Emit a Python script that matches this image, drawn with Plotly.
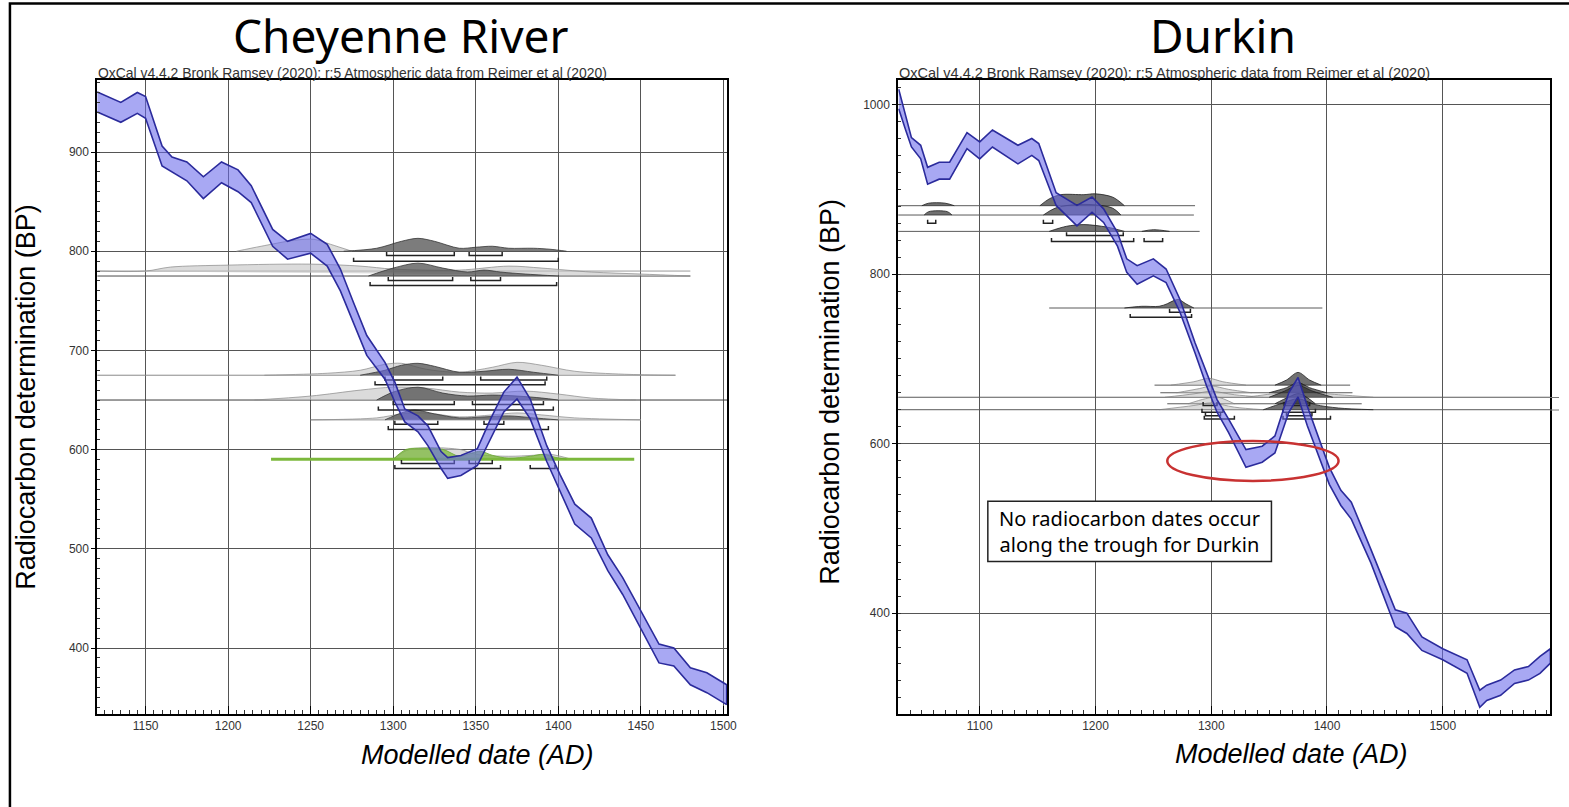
import plotly.graph_objects as go

W, H = 1569, 807

# ---------------- DATA ----------------
# Cheyenne River: calibration curve band (upper / lower, BP)
cr_year  = [1120, 1128, 1135, 1145, 1150, 1160, 1166, 1175, 1185, 1196, 1206, 1214, 1227, 1236, 1250,
            1260, 1268, 1276, 1284, 1295, 1301, 1307, 1315, 1321, 1329, 1333, 1341, 1351, 1359, 1367,
            1375, 1383, 1393, 1401, 1410, 1420, 1430, 1439, 1450, 1461, 1470, 1480, 1490, 1502]
cr_upper = [961, 955, 950, 960, 956, 906, 895, 890, 875, 890, 882, 866, 822, 810, 818,
            807, 782, 748, 715, 688, 668, 641, 634, 624, 598, 592, 594, 601, 631, 658,
            673, 651, 604, 575, 545, 531, 494, 471, 437, 404, 400, 380, 375, 363]
cr_lower = [941, 935, 930, 939, 934, 886, 880, 871, 853, 869, 860, 849, 805, 792, 798,
            785, 760, 728, 695, 671, 648, 628, 618, 604, 581, 571, 574, 584, 611, 638,
            651, 631, 588, 558, 525, 511, 478, 454, 420, 385, 382, 363, 355, 343]

# Durkin: calibration curve band
dk_year  = [1030, 1036, 1041, 1049, 1055, 1065, 1074, 1089, 1100, 1111, 1133, 1145, 1151, 1166, 1184,
            1197, 1207, 1219, 1227, 1236, 1250, 1261, 1273, 1286, 1296, 1305, 1315, 1330, 1344, 1355,
            1367, 1375, 1383, 1392, 1402, 1412, 1421, 1438, 1459, 1469, 1482, 1500, 1521, 1532, 1538,
            1550, 1562, 1574, 1584, 1593]
dk_upper = [1018, 985, 961, 952, 926, 932, 932, 967, 956, 970, 952, 960, 954, 896, 881,
            891, 877, 849, 818, 810, 818, 806, 770, 719, 684, 652, 629, 593, 597, 609,
            660, 678, 644, 609, 572, 545, 531, 475, 404, 400, 372, 358, 345, 309, 315,
            321, 333, 337, 349, 358]
dk_lower = [995, 970, 950, 936, 906, 912, 912, 948, 936, 950, 930, 940, 934, 881, 857,
            873, 861, 833, 802, 788, 798, 790, 755, 707, 668, 637, 613, 572, 578, 589,
            637, 655, 621, 589, 552, 527, 511, 459, 384, 376, 356, 345, 329, 289, 297,
            303, 317, 321, 329, 341]

# Cheyenne River distributions: (baseline BP, years, heights)
cr_prior = [
    (800, [1205, 1220, 1240, 1252, 1262, 1275], [0, 5, 11, 12, 7, 0]),
    (775, [1120, 1150, 1165, 1200, 1250, 1280, 1300, 1340, 1370, 1390, 1420, 1450, 1480],
          [5, 5, 9, 11, 12, 10, 7, 6, 10, 8, 4, 2, 0]),
    (675, [1222, 1260, 1280, 1295, 1305, 1320, 1340, 1360, 1375, 1390, 1410, 1440, 1471],
          [0, 2, 5, 11, 12, 6, 3, 8, 13, 10, 4, 1, 0]),
    (650, [1216, 1250, 1280, 1300, 1320, 1340, 1360, 1380, 1400, 1420, 1447],
          [0, 4, 10, 13, 12, 8, 7, 9, 6, 2, 0]),
    (630, [1250, 1290, 1305, 1320, 1340, 1360, 1375, 1390, 1410, 1450],
          [0, 2, 6, 7, 3, 5, 7, 5, 2, 0]),
    (590.3, [1300, 1310, 1340, 1350, 1370, 1385, 1395, 1408], [0, 10, 10, 5, 3, 4, 5, 0]),
]
cr_post = [
    (800, [1270, 1290, 1305, 1315, 1325, 1340, 1350, 1360, 1370, 1385, 1395, 1405],
          [0, 3, 10, 13, 10, 3, 4, 5, 3, 3, 2, 0]),
    (775, [1285, 1300, 1315, 1330, 1345, 1355, 1365, 1380, 1400], [0, 8, 13, 8, 4, 6, 4, 2, 0]),
    (675, [1280, 1295, 1305, 1315, 1325, 1340, 1355, 1370, 1385, 1400], [0, 5, 10, 12, 9, 3, 4, 6, 3, 0]),
    (650, [1290, 1300, 1315, 1330, 1345, 1360, 1375, 1390, 1400], [0, 8, 13, 7, 4, 5, 4, 2, 0]),
    (630, [1295, 1305, 1313, 1325, 1340, 1355, 1370, 1385, 1400], [0, 7, 10, 6, 2, 3, 4, 2, 0]),
]
cr_green = [
    (590.3, [1300, 1308, 1318, 1330, 1340, 1347, 1353, 1360, 1370, 1383, 1391, 1398, 1405],
            [0, 10, 11, 10, 3, 6, 8, 4, 1, 3, 5, 2, 0]),
]
# baselines: (BP, from, to, colour)
cr_base = [(775, 1120, 1480, "#4a4a4a"), (780, 1120, 1480, "#9a9a9a"), (675, 1120, 1471, "#8a8a8a"),
           (650, 1120, 1503, "#3a3a3a"), (630, 1250, 1450, "#8a8a8a")]
cr_green_line = (590.3, 1226, 1446)
# brackets: (BP, from, to)
cr_brackets = [(795.7, 1296, 1337), (795.7, 1346, 1366), (790, 1276, 1400),
               (770.6, 1297, 1336), (770.6, 1347, 1365), (765.5, 1286, 1399),
               (670.2, 1295, 1330), (670.2, 1353, 1393), (665.5, 1289, 1392),
               (645.5, 1300, 1337), (645.5, 1348, 1391), (640, 1291, 1397),
               (625.5, 1301, 1327), (625.5, 1355, 1367), (620.4, 1297, 1394),
               (586, 1305, 1337), (586, 1346, 1360), (581, 1301, 1365), (581, 1383, 1398)]

# Durkin distributions
dk_prior = [
    (669, [1265, 1285, 1298, 1310, 1330], [0, 4, 8, 4, 0]),
    (660, [1270, 1290, 1300, 1315, 1335], [0, 5, 8, 4, 0]),
    (654.7, [1260, 1285, 1300, 1320, 1345], [0, 4, 7, 3, 0]),
    (654.7, [1330, 1360, 1380, 1410, 1440], [0, 5, 6, 3, 0]),
    (647, [1280, 1295, 1305, 1320], [0, 6, 8, 0]),
    (640, [1255, 1285, 1300, 1320, 1345], [0, 5, 8, 3, 0]),
]
dk_post = [
    (880.7, [1050, 1056, 1070, 1078], [0, 3, 3, 0]),
    (880.7, [1152, 1160, 1170, 1190, 1200, 1215, 1225], [0, 8, 13, 13, 14, 10, 0]),
    (869.7, [1052, 1056, 1072, 1076], [0, 4, 4, 0]),
    (869.7, [1155, 1165, 1180, 1200, 1215, 1222], [0, 8, 12, 12, 8, 0]),
    (850.4, [1160, 1175, 1190, 1210, 1225], [0, 6, 8, 5, 0]),
    (850.4, [1240, 1250, 1264], [0, 2, 0]),
    (760, [1225, 1240, 1255, 1262, 1268, 1272, 1278, 1285], [0, 2, 2, 5, 9, 10, 5, 0]),
    (669, [1355, 1365, 1375, 1385, 1395], [0, 6, 15, 6, 0]),
    (660, [1350, 1365, 1375, 1385, 1400], [0, 6, 12, 6, 0]),
    (654.7, [1350, 1363, 1375, 1388, 1405], [0, 7, 14, 7, 0]),
    (647, [1355, 1367, 1376, 1390], [0, 8, 12, 0]),
    (640, [1345, 1362, 1375, 1390, 1410, 1440], [0, 8, 13, 6, 2, 0]),
]
dk_base = [(880.7, 1026, 1286), (869.7, 1026, 1285), (850.4, 1026, 1290), (760, 1160, 1396),
           (669, 1251, 1420), (660, 1256, 1422), (654.7, 1029, 1593), (647, 1262, 1430),
           (640, 1029, 1593)]
dk_brackets = [(860, 1055, 1062), (860, 1155, 1163), (845.5, 1175, 1224), (838.6, 1162, 1233),
               (838.6, 1242, 1258), (755, 1264, 1282), (749, 1230, 1283),
               (645, 1293, 1305), (645, 1363, 1385), (637, 1292, 1310), (637, 1362, 1390),
               (633, 1295, 1308), (633, 1365, 1387), (629, 1294, 1320), (629, 1362, 1403)]
dk_ellipse = (1262, 556, 1410, 603)
dk_note_box = (1107, 461, 1352, 532)
dk_note = "No radiocarbon dates occur<br>along the trough for Durkin"

caption = "OxCal v4.4.2 Bronk Ramsey (2020); r:5 Atmospheric data from Reimer et al (2020)"

# ---------------- FIGURE ----------------
def fx(px):
    return px / W


def fy(py):
    return 1 - py / H


fig = go.Figure()


def band(year, up, lo, xa, ya):
    fig.add_trace(go.Scatter(x=year + year[::-1], y=up + lo[::-1], fill="toself",
                             fillcolor="rgba(105,105,235,0.58)",
                             line=dict(color="#2b2b9c", width=1.6), mode="lines",
                             xaxis=xa, yaxis=ya, hoverinfo="skip", showlegend=False))


def dist(base, xs, hs, fill, line, xa, ya):
    fig.add_trace(go.Scatter(x=xs, y=[base + h for h in hs], fill="toself", fillcolor=fill,
                             line=dict(color=line, width=0.8, shape="spline", smoothing=0.9),
                             mode="lines", xaxis=xa, yaxis=ya, hoverinfo="skip", showlegend=False))


def hlines(items, color, width, xa, ya):
    xs, ys = [], []
    for (b, x0, x1) in items:
        xs += [x0, x1, None]
        ys += [b, b, None]
    fig.add_trace(go.Scatter(x=xs, y=ys, mode="lines", line=dict(color=color, width=width),
                             xaxis=xa, yaxis=ya, hoverinfo="skip", showlegend=False))


def brackets(items, tick, xa, ya):
    xs, ys = [], []
    for (b, x0, x1) in items:
        xs += [x0, x0, x1, x1, None]
        ys += [b + tick, b, b, b + tick, None]
    fig.add_trace(go.Scatter(x=xs, y=ys, mode="lines", line=dict(color="#222222", width=1.5),
                             xaxis=xa, yaxis=ya, hoverinfo="skip", showlegend=False))


# --- left panel ---
for (b, x0, x1, c) in cr_base:
    hlines([(b, x0, x1)], c, 1, "x", "y")
for (b, xs, hs) in cr_prior:
    dist(b, xs, hs, "rgba(195,195,195,0.6)", "rgba(140,140,140,0.9)", "x", "y")
for (b, xs, hs) in cr_post:
    dist(b, xs, hs, "rgba(80,80,80,0.75)", "rgba(55,55,55,1)", "x", "y")
hlines([cr_green_line], "#7cb83c", 3, "x", "y")
for (b, xs, hs) in cr_green:
    dist(b, xs, hs, "rgba(124,184,60,0.75)", "#6aa830", "x", "y")
brackets(cr_brackets, 3.5, "x", "y")
band(cr_year, cr_upper, cr_lower, "x", "y")

# --- right panel ---
hlines(dk_base, "#5a5a5a", 1, "x2", "y2")
for (b, xs, hs) in dk_prior:
    dist(b, xs, hs, "rgba(190,190,190,0.55)", "rgba(130,130,130,0.9)", "x2", "y2")
for (b, xs, hs) in dk_post:
    dist(b, xs, hs, "rgba(45,45,45,0.68)", "rgba(30,30,30,1)", "x2", "y2")
brackets(dk_brackets, 4, "x2", "y2")
band(dk_year, dk_upper, dk_lower, "x2", "y2")

tickfont = dict(family="Liberation Sans, Arial, sans-serif", size=12, color="#333333")
grid = dict(showgrid=True, gridcolor="#555555", gridwidth=1, zeroline=False, showline=True,
            linecolor="black", linewidth=2, mirror=True, tickfont=tickfont, tickcolor="black")

fig.update_layout(
    width=W, height=H, autosize=False,
    margin=dict(l=0, r=0, t=0, b=0, pad=0),
    paper_bgcolor="white", plot_bgcolor="white", showlegend=False,
    xaxis=dict(domain=[fx(98), fx(732)], range=[1120.8, 1502.4], tick0=1150, dtick=50,
               ticks="inside", ticklen=8, anchor="y",
               minor=dict(dtick=5, ticks="inside", ticklen=4, tickcolor="#333", showgrid=False),
               **grid),
    yaxis=dict(domain=[fy(714), fy(80)], range=[333.5, 972.6], tick0=0, dtick=100,
               ticks="outside", ticklen=4, anchor="x",
               minor=dict(dtick=10, ticks="inside", ticklen=3, tickcolor="#333", showgrid=False),
               **grid),
    xaxis2=dict(domain=[fx(904), fx(1560)], range=[1029.6, 1592.7], tick0=1000, dtick=100,
                ticks="inside", ticklen=8, anchor="y2",
                minor=dict(dtick=10, ticks="inside", ticklen=4, tickcolor="#333", showgrid=False),
                **grid),
    yaxis2=dict(domain=[fy(714), fy(80)], range=[281.0, 1029.0], tick0=0, dtick=200,
                ticks="outside", ticklen=4, anchor="x2",
                minor=dict(dtick=20, ticks="inside", ticklen=3, tickcolor="#333", showgrid=False),
                **grid),
)

shapes = [
    # outer frame (left/top edges visible)
    dict(type="rect", xref="paper", yref="paper", x0=fx(10), x1=1.05, y0=-0.05, y1=fy(3.5),
         line=dict(color="black", width=2.5)),
    # red ellipse
    dict(type="circle", xref="x2", yref="y2", x0=dk_ellipse[0], y0=dk_ellipse[1],
         x1=dk_ellipse[2], y1=dk_ellipse[3], line=dict(color="#c83232", width=2.5)),
    # note box
    dict(type="rect", xref="x2", yref="y2", x0=dk_note_box[0], y0=dk_note_box[1],
         x1=dk_note_box[2], y1=dk_note_box[3], line=dict(color="#222", width=1.5),
         fillcolor="white"),
    # baselines running past the right panel edge
    dict(type="line", xref="paper", yref="paper", x0=fx(1560), x1=1, y0=fy(397.5), y1=fy(397.5),
         line=dict(color="#777", width=1)),
    dict(type="line", xref="paper", yref="paper", x0=fx(1560), x1=1, y0=fy(410), y1=fy(410),
         line=dict(color="#777", width=1)),
]
fig.update_layout(shapes=shapes)

title_font = dict(family="Noto Sans, Open Sans, sans-serif", size=46, color="black")
ann = [
    dict(text="Cheyenne River", x=fx(403), y=fy(35), font=title_font),
    dict(text="Durkin", x=fx(1231), y=fy(35), font=title_font),
    dict(text=caption, x=fx(97), y=fy(73), xanchor="left",
         font=dict(family="Liberation Sans, Arial", size=13.9, color="#333")),
    dict(text=caption, x=fx(903), y=fy(73), xanchor="left",
         font=dict(family="Liberation Sans, Arial", size=14.5, color="#333")),
    dict(text="Radiocarbon determination (BP)", x=fx(26), y=fy(397), textangle=-90,
         font=dict(family="Liberation Sans, Arial", size=27, color="black")),
    dict(text="Radiocarbon determination (BP)", x=fx(835), y=fy(392), textangle=-90,
         font=dict(family="Liberation Sans, Arial", size=27, color="black")),
    dict(text="<i>Modelled date (AD)</i>", x=fx(481), y=fy(755),
         font=dict(family="Liberation Sans, Arial", size=27, color="black")),
    dict(text="<i>Modelled date (AD)</i>", x=fx(1300), y=fy(754),
         font=dict(family="Liberation Sans, Arial", size=27, color="black")),
]
annotations = []
for a in ann:
    d = dict(xref="paper", yref="paper", showarrow=False, xanchor="center", yanchor="middle")
    d.update(a)
    annotations.append(d)
annotations.append(dict(text=dk_note, xref="x2", yref="y2",
                        x=(dk_note_box[0] + dk_note_box[2]) / 2,
                        y=(dk_note_box[1] + dk_note_box[3]) / 2, showarrow=False,
                        font=dict(family="Noto Sans, Open Sans, sans-serif", size=20, color="black")))
fig.update_layout(annotations=annotations)

fig.write_html("out.html")
